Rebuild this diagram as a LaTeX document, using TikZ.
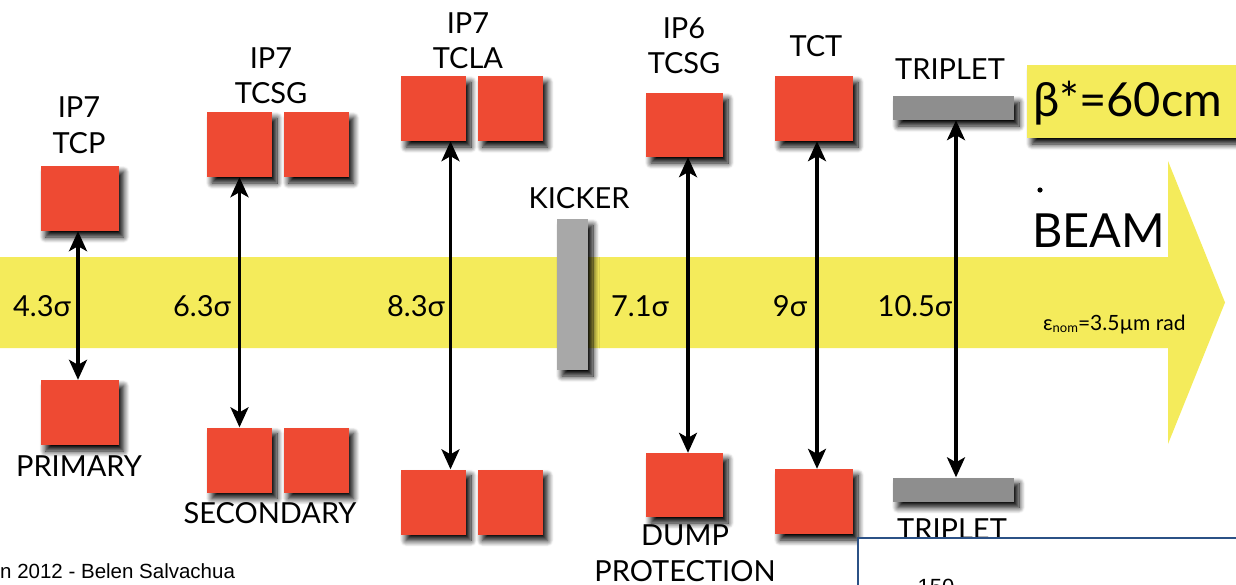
\documentclass[tikz,border=0pt]{standalone}
\usepackage{fontspec}
\setmainfont{Lato}
\newfontfamily\footfont{Liberation Sans}
\usetikzlibrary{arrows.meta,shadows.blur}
\definecolor{beamyellow}{HTML}{F4EB5B}
\definecolor{collred}{HTML}{EE4A33}
\definecolor{kickgray}{HTML}{A8A8A8}
\definecolor{tripgray}{HTML}{8E8E8E}
\definecolor{boxblue}{HTML}{2B5186}
\begin{document}
\begin{tikzpicture}[x=1pt,y=-1pt,
  shad/.style={blur shadow={shadow xshift=5pt, shadow yshift=-6pt, shadow blur steps=10, shadow blur radius=6pt, shadow opacity=100}},
  coll/.style={fill=collred, draw=none, inner sep=0, shad},
  sq/.style={coll, minimum width=65pt, minimum height=65pt},
  wide/.style={coll, minimum width=78pt, minimum height=65pt},
  bar/.style={fill=tripgray, draw=none, inner sep=0, shad, minimum width=121pt, minimum height=24pt},
  lbl/.style={font=\fontsize{29}{36}\selectfont, inner sep=0, anchor=base},
  aper/.style={line width=3.2pt, {Stealth[length=20pt,width=18pt,inset=5pt]}-{Stealth[length=20pt,width=18pt,inset=5pt]}}
]
\useasboundingbox (0,0) rectangle (1236,584);
\clip (0,0) rectangle (1236,584);

% beam arrow
\fill[beamyellow] (0,257) -- (1168,257) -- (1168,161) -- (1225,302.5) -- (1168,444) -- (1168,348) -- (0,348) -- cycle;

% kicker
\node[fill=kickgray, inner sep=0, minimum width=31pt, minimum height=151pt, shad] (kick) at (572.5,294.5) {};

% collimators
\node[wide] (tcpT) at (79.5,198.5) {};
\node[wide] (tcpB) at (79.5,412.5) {};
\node[sq] (tcsgT1) at (239.5,144.5) {};
\node[sq] (tcsgT2) at (316,144.5) {};
\node[sq] (tcsgB1) at (239.5,460) {};
\node[sq] (tcsgB2) at (316,460) {};
\node[sq] (tclaT1) at (433.5,108.5) {};
\node[sq] (tclaT2) at (510,108.5) {};
\node[sq] (tclaB1) at (433.5,502) {};
\node[sq] (tclaB2) at (510,502) {};
\node[coll, minimum width=77pt, minimum height=64pt] (ip6T) at (684.5,125) {};
\node[coll, minimum width=77pt, minimum height=64pt] (ip6B) at (684.5,485) {};
\node[wide] (tctT) at (814,108.5) {};
\node[wide] (tctB) at (814,501.5) {};
\node[bar] (tripT) at (953.5,108) {};
\node[bar] (tripB) at (953.5,489.5) {};

% apertures
\draw[aper] ([xshift=-1.5pt]tcpT.south) -- ([xshift=-1.5pt]tcpB.north);
\draw[aper] (tcsgT1.south) -- (tcsgB1.north);
\draw[aper] ([xshift=17pt]tclaT1.south) -- ([xshift=17pt]tclaB1.north);
\draw[aper] ([xshift=3.5pt]ip6T.south) -- ([xshift=3.5pt]ip6B.north);
\draw[aper] ([xshift=3pt]tctT.south) -- ([xshift=3pt]tctB.north);
\draw[aper] ([xshift=2.5pt]tripT.south) -- ([xshift=2.5pt]tripB.north);

% labels
\node[lbl] (l1a) at (79,117) {IP7};
\node[lbl] (l1b) at (79,153) {TCP};
\node[lbl] (l2a) at (271,68) {IP7};
\node[lbl] (l2b) at (271,103) {TCSG};
\node[lbl] (l3a) at (468,33) {IP7};
\node[lbl] (l3b) at (468,68) {TCLA};
\node[lbl] (l4a) at (684,38) {IP6};
\node[lbl] (l4b) at (684,73) {TCSG};
\node[lbl] (l5) at (816,56) {TCT};
\node[lbl] (l6) at (950,79) {TRIPLET};
\node[lbl] (l7) at (579,208) {KICKER};
\node[lbl] (l8) at (79,476) {PRIMARY};
\node[lbl] (l9) at (270,523) {SECONDARY};
\node[lbl] (l10a) at (685,545) {DUMP};
\node[lbl] (l10b) at (685,581) {PROTECTION};
\node[lbl] (l11) at (952,539) {TRIPLET};

% sigmas
\node[lbl] (s1) at (42,316) {4.3σ};
\node[lbl] (s2) at (202,316) {6.3σ};
\node[lbl] (s3) at (416,316) {8.3σ};
\node[lbl] (s4) at (640,316) {7.1σ};
\node[lbl] (s5) at (790,316) {9σ};
\node[lbl] (s6) at (915,316) {10.5σ};
\node[inner sep=0, anchor=base west, font=\fontsize{21}{24}\selectfont] (eps) at (1043,330) {ε\raisebox{-2pt}{\fontsize{13}{14}\selectfont nom}=3.5µm rad};

% beta* box
\fill[beamyellow, shad] (1027,65) rectangle (1250,138);
\node[inner sep=0, anchor=base west, font=\fontsize{47}{50}\selectfont] (beta) at (1033,116) {β*=60cm};

% BEAM
\node[inner sep=0, anchor=base west, font=\fontsize{47}{50}\selectfont] (beam) at (1032,247) {BEAM};
\fill (1040,190) circle (2.6pt);

% footer
\node[inner sep=0, anchor=base west, font=\footfont\fontsize{20.5}{24}\selectfont] (foot) at (0,578) {n 2012 - Belen Salvachua};

% overlapping slide box
\draw[line width=1.3pt, draw=boxblue, fill=white] (858,538) rectangle (1250,610);
\node[inner sep=0, anchor=base, font=\footfont\fontsize{22}{24}\selectfont] (num) at (936,594) {150};
\end{tikzpicture}
\end{document}
